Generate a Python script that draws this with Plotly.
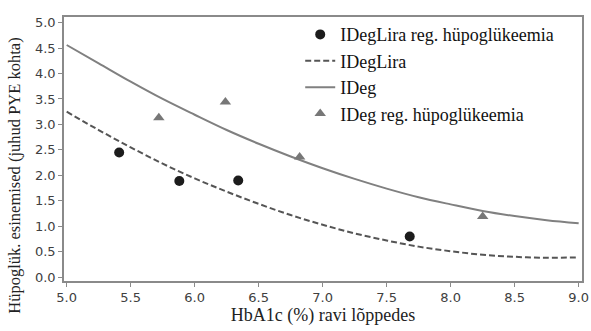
import plotly.graph_objects as go

# Observed points
ideglira_x = [5.41, 5.88, 6.34, 7.68]
ideglira_y = [2.45, 1.89, 1.90, 0.80]
ideg_x = [5.72, 6.24, 6.82, 8.25]
ideg_y = [3.13, 3.44, 2.36, 1.19]

# Fitted curves
curve_x = [5.0, 5.25, 5.5, 5.75, 6.0, 6.25, 6.5, 6.75, 7.0, 7.25, 7.5, 7.75, 8.0, 8.25, 8.5, 8.75, 9.0]
ideglira_fit = [3.25, 2.89, 2.55, 2.23, 1.94, 1.68, 1.44, 1.22, 1.03, 0.86, 0.72, 0.60, 0.51, 0.44, 0.40, 0.38, 0.39]
ideg_fit = [4.56, 4.20, 3.84, 3.50, 3.19, 2.89, 2.62, 2.37, 2.14, 1.93, 1.74, 1.57, 1.43, 1.30, 1.20, 1.12, 1.06]

x_ticks = [5.0, 5.5, 6.0, 6.5, 7.0, 7.5, 8.0, 8.5, 9.0]
y_ticks = [0.0, 0.5, 1.0, 1.5, 2.0, 2.5, 3.0, 3.5, 4.0, 4.5, 5.0]

x_title = "HbA1c (%) ravi lõppedes"
y_title = "Hüpoglük. esinemised (juhud PYE kohta)"

fig = go.Figure()
fig.add_trace(go.Scatter(x=ideglira_x, y=ideglira_y, mode="markers",
                         name="IDegLira reg. hüpoglükeemia",
                         marker=dict(symbol="circle", size=10, color="#1c1c1c")))
fig.add_trace(go.Scatter(x=curve_x, y=ideglira_fit, mode="lines", name="IDegLira",
                         line=dict(color="#555555", width=2, dash="6px,3px", shape="spline")))
fig.add_trace(go.Scatter(x=curve_x, y=ideg_fit, mode="lines", name="IDeg",
                         line=dict(color="#808080", width=2, shape="spline")))
fig.add_trace(go.Scatter(x=ideg_x, y=ideg_y, mode="markers",
                         name="IDeg reg. hüpoglükeemia",
                         marker=dict(symbol="triangle-up", size=10, color="#777777")))

axis_common = dict(showgrid=False, zeroline=False, showline=True, linecolor="#8a8a8a",
                   linewidth=1.5, mirror=True, ticks="outside", ticklen=4,
                   tickcolor="#8a8a8a", automargin=False,
                   tickfont=dict(family="DejaVu Sans", size=13, color="#404040"))

fig.update_xaxes(range=[4.979, 9.026], tickvals=x_ticks,
                 ticktext=[f"{v:.1f}" for v in x_ticks],
                 title=dict(text=x_title,
                            font=dict(family="Liberation Serif", size=18, color="#222222"),
                            standoff=4),
                 **axis_common)
fig.update_yaxes(range=[-0.075, 5.11], tickvals=y_ticks,
                 ticktext=[f"{v:.1f}" for v in y_ticks],
                 **axis_common)

fig.add_annotation(text=y_title, textangle=-90, xref="paper", yref="paper",
                   x=-0.095, y=0.398, xanchor="center", yanchor="middle",
                   showarrow=False,
                   font=dict(family="Liberation Serif", size=16.5, color="#222222"))

fig.update_layout(
    width=591, height=331,
    margin=dict(l=64, r=9, t=17, b=50),
    paper_bgcolor="white", plot_bgcolor="white",
    legend=dict(x=0.456, y=1.003, xanchor="left", yanchor="top",
                bgcolor="rgba(0,0,0,0)",
                font=dict(family="Liberation Serif", size=18, color="#111111"),
                itemwidth=30),
    showlegend=True,
)

fig.write_html("out.html")
